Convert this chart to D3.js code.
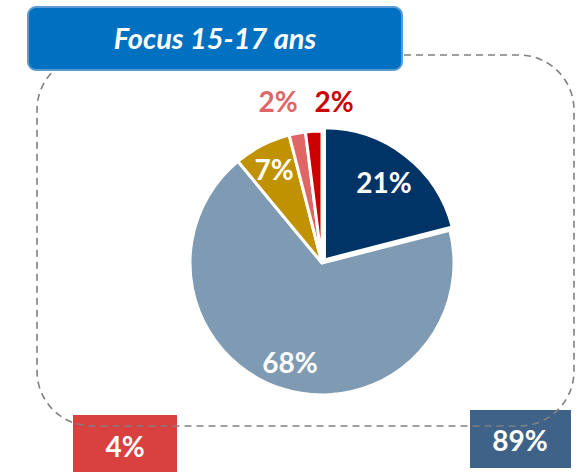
<!DOCTYPE html>
<html><head><meta charset="utf-8">
<script src="https://cdn.jsdelivr.net/npm/d3@7"></script>
<style>body{margin:0;background:#fff}svg{display:block}</style>
</head><body>
<svg id="c" width="584" height="472"></svg>
<script>
const categories = ["A", "B", "C", "D", "E"];
const values = [21, 68, 7, 2, 2];
const labels = ["21%", "68%", "7%", "2%", "2%"];
const colors = ["#003366", "#7F9AB3", "#C09100", "#E06666", "#CC0000"];
const labelColors = ["#fff", "#fff", "#fff", "#E06666", "#CC0000"];
const title = "Focus 15-17 ans";
const boxLabels = ["4%", "89%"];

const svg = d3.select("#c");
const font = "Lato, 'Open Sans', sans-serif";

// bottom boxes
svg.append("rect").attr("x", 73).attr("y", 415).attr("width", 104).attr("height", 60).attr("fill", "#D94040");
svg.append("text").attr("x", 125).attr("y", 457).attr("text-anchor", "middle").attr("fill", "#fff")
  .attr("font-family", font).attr("font-weight", 700).attr("font-size", 28).text(boxLabels[0]);
svg.append("rect").attr("x", 470).attr("y", 410).attr("width", 101).attr("height", 58).attr("fill", "#3F6388");
svg.append("text").attr("x", 520).attr("y", 451).attr("text-anchor", "middle").attr("fill", "#fff")
  .attr("font-family", font).attr("font-weight", 700).attr("font-size", 28).text(boxLabels[1]);

// dashed frame
svg.append("rect").attr("x", 37).attr("y", 55).attr("width", 537).attr("height", 371).attr("rx", 55)
  .attr("fill", "none").attr("stroke", "#808080").attr("stroke-width", 1.6).attr("stroke-dasharray", "7,5");

// pie
const cx = 322, cy = 263, R = 132;
const pie = d3.pie().sort(null).value(d => d)(values);
const arc = d3.arc().innerRadius(0).outerRadius(R);
const g = svg.append("g").attr("transform", `translate(${cx},${cy})`);
const explode = [4, 0, 0, 0, 0];
g.selectAll("path").data(pie).join("path")
  .attr("d", arc)
  .attr("transform", (d, i) => {
    const a = (d.startAngle + d.endAngle) / 2;
    return `translate(${Math.sin(a) * explode[i]},${-Math.cos(a) * explode[i]})`;
  })
  .attr("fill", (d, i) => colors[i]).attr("stroke", "#fff").attr("stroke-width", 3).attr("stroke-linejoin", "miter");

const labelPos = [[62, -70], [-32, 110], [-48, -83], [-44, -151], [12, -151]];
g.selectAll("text").data(pie).join("text")
  .attr("x", (d, i) => labelPos[i][0]).attr("y", (d, i) => labelPos[i][1])
  .attr("text-anchor", "middle").attr("fill", (d, i) => labelColors[i])
  .attr("font-family", font).attr("font-weight", 700).attr("font-size", 28)
  .text((d, i) => labels[i]);

// title box
svg.append("rect").attr("x", 28).attr("y", 7).attr("width", 374).attr("height", 63).attr("rx", 8)
  .attr("fill", "#0070C0").attr("stroke", "#5B9BD5").attr("stroke-width", 2);
svg.append("text").attr("x", 215).attr("y", 49).attr("text-anchor", "middle").attr("fill", "#fff")
  .attr("font-family", font).attr("font-weight", 700).attr("font-style", "italic").attr("font-size", 29).text(title);
</script>
</body></html>
